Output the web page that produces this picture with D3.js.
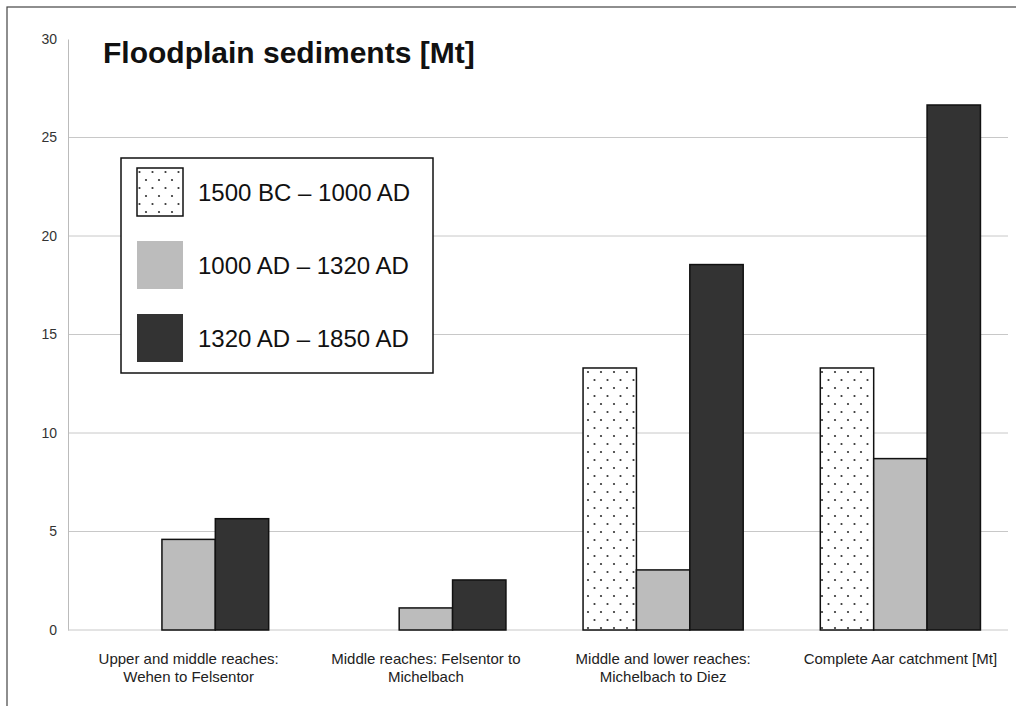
<!DOCTYPE html>
<html lang="en">
<head>
  <meta charset="utf-8" />
  <title>Floodplain sediments</title>
  <script src="https://cdnjs.cloudflare.com/ajax/libs/d3/7.8.5/d3.min.js"></script>
  <style>
    body { margin: 0; background: #fff; }
    svg { display: block; font-family: 'Liberation Sans', Arial, sans-serif; }
  </style>
</head>
<body>
<svg id="chart" width="1016" height="706"></svg>
<script>
// ------------------- DATA -------------------
const categories = [
  ["Upper and middle reaches:", "Wehen to Felsentor"],
  ["Middle reaches: Felsentor to", "Michelbach"],
  ["Middle and lower reaches:", "Michelbach to Diez"],
  ["Complete Aar catchment [Mt]"]
];
const periods = ["1500 BC \u2013 1000 AD", "1000 AD \u2013 1320 AD", "1320 AD \u2013 1850 AD"];
const early  = [null, null, 13.3, 13.3];
const middle = [4.6, 1.12, 3.05, 8.7];
const late   = [5.65, 2.54, 18.55, 26.65];
const yTicks = [0, 5, 10, 15, 20, 25, 30];

const series = [early, middle, late];

// ------------------- CHART -------------------
const svg = d3.select("#chart");

const defs = svg.append("defs");
const pat = defs.append("pattern")
  .attr("id", "dots")
  .attr("patternUnits", "userSpaceOnUse")
  .attr("width", 13).attr("height", 16);
pat.append("rect").attr("width", 13).attr("height", 16).attr("fill", "#fff");
pat.append("circle").attr("cx", 3).attr("cy", 4).attr("r", 1.1).attr("fill", "#333");
pat.append("circle").attr("cx", 9.5).attr("cy", 12).attr("r", 1.1).attr("fill", "#333");

const fills = ["url(#dots)", "#bcbcbc", "#333333"];

// outer frame
svg.append("rect")
  .attr("x", 7).attr("y", 7).attr("width", 1020).attr("height", 710)
  .attr("fill", "none").attr("stroke", "#444").attr("stroke-width", 1.2);

const x0 = d3.scaleBand()
  .domain(d3.range(categories.length))
  .range([70, 1019])
  .paddingInner(0.325)
  .paddingOuter(0.1625);

const x1 = d3.scaleBand()
  .domain(d3.range(series.length))
  .range([0, x0.bandwidth()]);

const y = d3.scaleLinear().domain([0, 30]).range([630, 39]);

// grid (no line at the top value)
svg.append("g")
  .selectAll("line")
  .data(yTicks.filter(t => t > 0 && t < 30))
  .join("line")
  .attr("x1", 68).attr("x2", 1008)
  .attr("y1", d => y(d)).attr("y2", d => y(d))
  .attr("stroke", "#c8c8c8").attr("stroke-width", 1);

// y axis
const yAxis = svg.append("g")
  .attr("transform", "translate(68,0)")
  .call(d3.axisLeft(y).tickValues(yTicks).tickSize(0).tickPadding(11));
yAxis.select(".domain").attr("stroke", "#bbb");
yAxis.selectAll(".tick text")
  .attr("fill", "#333").style("font-size", "14px")
  .style("font-family", "'Liberation Sans', Arial, sans-serif");

// baseline
svg.append("line")
  .attr("x1", 68).attr("x2", 1008)
  .attr("y1", y(0)).attr("y2", y(0))
  .attr("stroke", "#c8c8c8");

// bars
series.forEach((vals, s) => {
  svg.append("g")
    .selectAll("rect")
    .data(vals.map((v, i) => ({ i, v })).filter(d => d.v != null))
    .join("rect")
    .attr("x", d => x0(d.i) + x1(s))
    .attr("y", d => y(d.v))
    .attr("width", x1.bandwidth())
    .attr("height", d => y(0) - y(d.v))
    .attr("fill", fills[s])
    .attr("stroke", "#111")
    .attr("stroke-width", 1.5);
});

// category labels
categories.forEach((lines, i) => {
  const cx = x0(i) + x0.bandwidth() / 2;
  const t = svg.append("text")
    .attr("x", cx)
    .attr("y", 664)
    .attr("text-anchor", "middle")
    .attr("fill", "#222")
    .style("font-size", "15px");
  lines.forEach((ln, k) => {
    t.append("tspan")
      .attr("x", cx)
      .attr("dy", k === 0 ? 0 : 18)
      .text(ln);
  });
});

// title
svg.append("text")
  .attr("x", 103).attr("y", 63)
  .attr("fill", "#111")
  .style("font-size", "30px")
  .style("font-weight", "bold")
  .text("Floodplain sediments [Mt]");

// legend
const legend = svg.append("g");
legend.append("rect")
  .attr("x", 121).attr("y", 158).attr("width", 312).attr("height", 215)
  .attr("fill", "#fff").attr("stroke", "#111").attr("stroke-width", 1.5);

periods.forEach((p, i) => {
  const cy = 192 + i * 73;
  legend.append("rect")
    .attr("x", 137).attr("y", cy - 24).attr("width", 46).attr("height", 48)
    .attr("fill", fills[i])
    .attr("stroke", i === 0 ? "#111" : "none")
    .attr("stroke-width", 1.5);
  legend.append("text")
    .attr("x", 198).attr("y", cy + 9)
    .attr("fill", "#111")
    .style("font-size", "24px")
    .text(p);
});
</script>
</body>
</html>
